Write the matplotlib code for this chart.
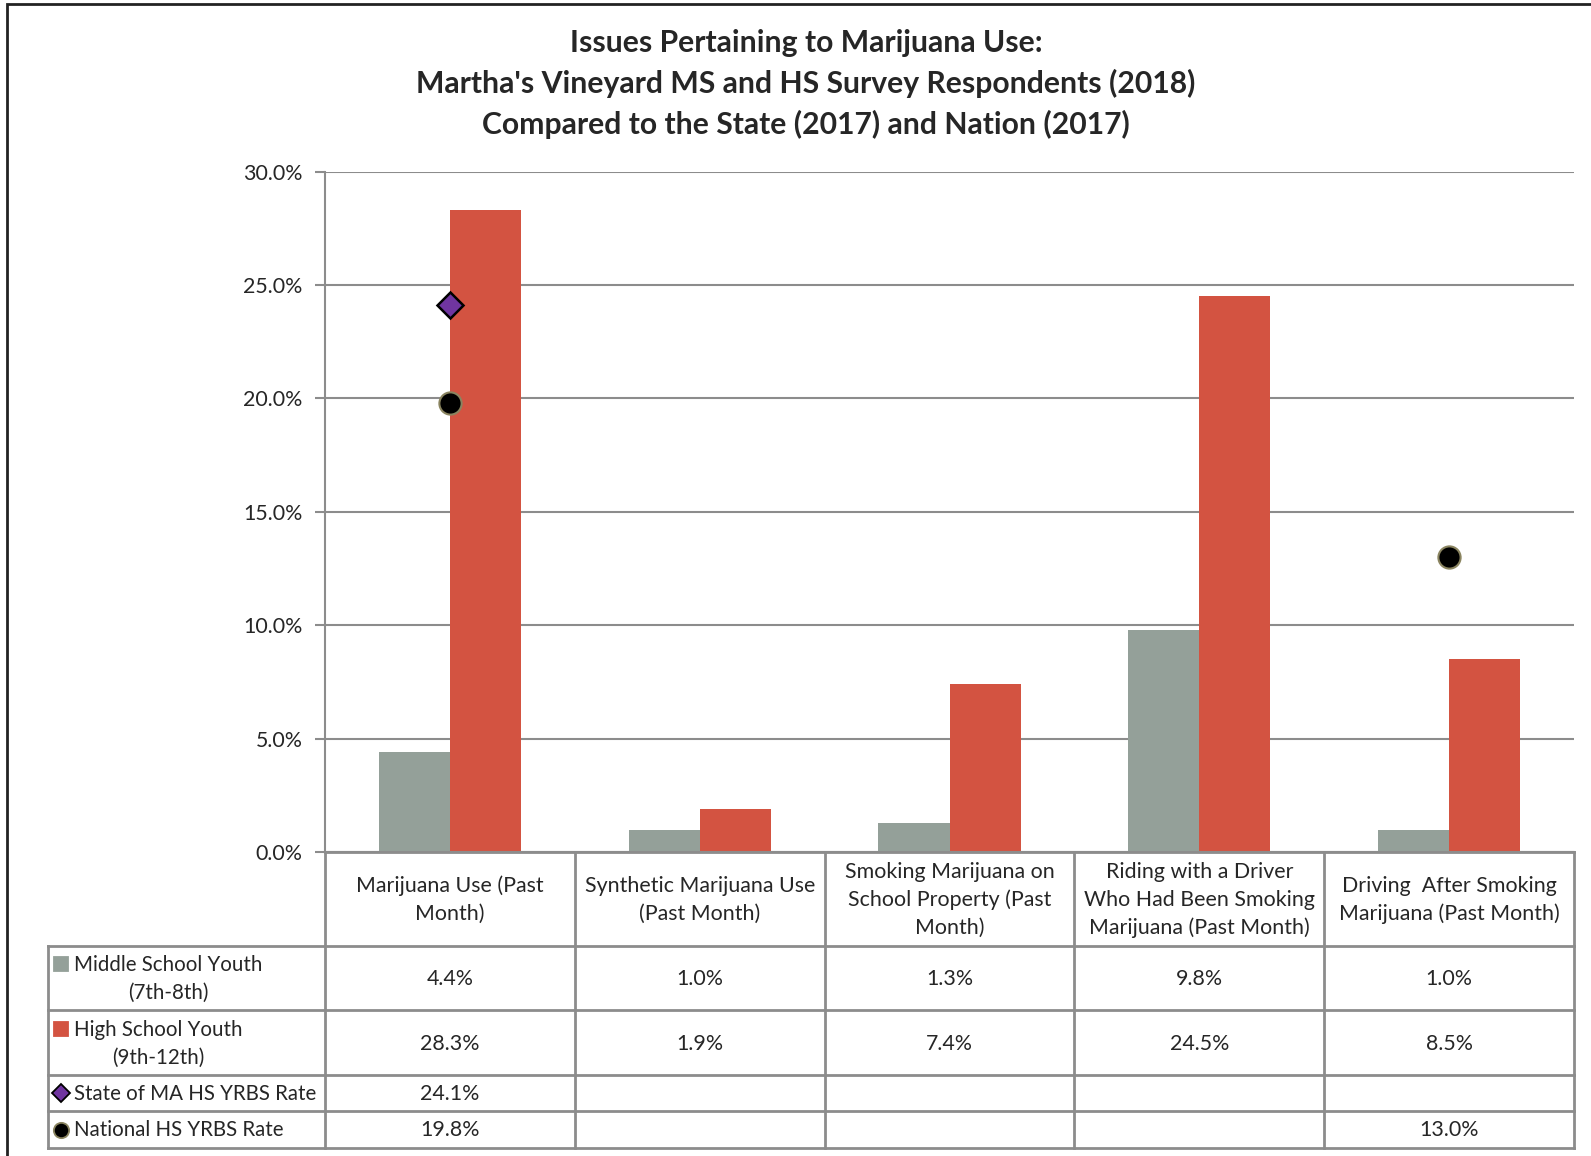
import numpy as np
import matplotlib.pyplot as plt
from matplotlib.patches import Rectangle

plt.rcParams['font.family'] = ['Lato', 'DejaVu Sans']

categories = ["Marijuana Use (Past\nMonth)",
              "Synthetic Marijuana Use\n(Past Month)",
              "Smoking Marijuana on\nSchool Property (Past\nMonth)",
              "Riding with a Driver\nWho Had Been Smoking\nMarijuana (Past Month)",
              "Driving  After Smoking\nMarijuana (Past Month)"]
ms_youth = [4.4, 1.0, 1.3, 9.8, 1.0]
hs_youth = [28.3, 1.9, 7.4, 24.5, 8.5]
state_ma = [24.1, None, None, None, None]
national = [19.8, None, None, None, 13.0]
series_names = ["Middle School Youth\n(7th-8th)", "High School Youth\n(9th-12th)",
                "State of MA HS YRBS Rate", "National HS YRBS Rate"]
yticks = [0, 5, 10, 15, 20, 25, 30]

W, H = 1591, 1156
fig = plt.figure(figsize=(W / 100, H / 100), dpi=100)

def box(l, t, r, b):
    return [l / W, 1 - b / H, (r - l) / W, (b - t) / H]

GRAY = '#94A099'
RED = '#D35341'
PURPLE = '#7035A0'
LINE = '#8C8C8C'
TXT = '#262626'
FS = 15.4

# outer frame
fig.patches.append(Rectangle((7 / W, -0.01), 1.05, 1 - 3.5 / H + 0.01, transform=fig.transFigure,
                             fill=False, edgecolor='#222222', linewidth=2))

fig.text(806 / W, 1 - 84 / H,
         "Issues Pertaining to Marijuana Use:\nMartha's Vineyard MS and HS Survey Respondents (2018)\nCompared to the State (2017) and Nation (2017)",
         ha='center', va='center', fontsize=21.7, fontweight='bold', color=TXT, linespacing=1.49)

ax = fig.add_axes(box(325, 171.5, 1574, 852.3))
x = np.arange(len(categories))
bw = 0.285
ax.bar(x - bw / 2, ms_youth, bw, color=GRAY, zorder=2)
ax.bar(x + bw / 2, hs_youth, bw, color=RED, zorder=2)
sx = [i for i, v in enumerate(state_ma) if v is not None]
ax.plot(sx, [state_ma[i] for i in sx], 'D', color=PURPLE, markeredgecolor='black',
        markeredgewidth=1.8, markersize=13, zorder=4)
nx = [i for i, v in enumerate(national) if v is not None]
ax.plot(nx, [national[i] for i in nx], 'o', color='black', markeredgecolor='#8A8460',
        markeredgewidth=1.5, markersize=16, zorder=4)

ax.set_xlim(-0.5, len(categories) - 0.5)
ax.set_ylim(0, 30)
ax.set_yticks(yticks)
ax.set_yticklabels([f"{t:.1f}%" for t in yticks], fontsize=FS, color=TXT)
ax.yaxis.grid(True, color=LINE, linewidth=1.5, zorder=0)
ax.set_xticks([])
ax.tick_params(axis='y', length=7, width=1.5, color=LINE, pad=9)
for s in ['top', 'right']:
    ax.spines[s].set_visible(False)
for s in ['left', 'bottom']:
    ax.spines[s].set_color(LINE)
    ax.spines[s].set_linewidth(1.5)

# data table
rows = [852, 946, 1010, 1075, 1111, 1148]
tab = fig.add_axes(box(0, 852, W, 1148))
tab.set_xlim(0, W)
tab.set_ylim(1148, 852)
tab.axis('off')
col_w = (1574 - 325) / len(categories)
cols = [325 + i * col_w for i in range(len(categories) + 1)]
lk = dict(color=LINE, linewidth=2, clip_on=False)
tab.plot([325, 1574], [rows[0], rows[0]], **lk)
for yy in rows[1:]:
    tab.plot([48, 1574], [yy, yy], **lk)
tab.plot([48, 48], [rows[1], rows[-1]], **lk)
for xx in cols:
    tab.plot([xx, xx], [rows[0], rows[-1]], **lk)

for i, c in enumerate(categories):
    tab.text((cols[i] + cols[i + 1]) / 2, (rows[0] + rows[1]) / 2 + 1, c, ha='center', va='center',
             fontsize=FS, color=TXT, linespacing=1.48)

table_series = [ms_youth, hs_youth, state_ma, national]
keys = [('s', GRAY, GRAY, 10), ('s', RED, RED, 10), ('D', PURPLE, 'black', 9), ('o', 'black', '#8A8460', 11)]
for r, (name, vals, k) in enumerate(zip(series_names, table_series, keys)):
    yc = (rows[r + 1] + rows[r + 2]) / 2
    ky = yc - 14 if '\n' in name else yc
    tab.plot([61], [ky], k[0], color=k[1], markeredgecolor=k[2], markersize=k[3],
             markeredgewidth=1.3, clip_on=False)
    tab.text(74, yc + 1, name, ha='left', va='center', fontsize=14.8, color=TXT,
             multialignment='center', linespacing=1.5)
    for i, v in enumerate(vals):
        if v is not None:
            tab.text((cols[i] + cols[i + 1]) / 2, yc + 1, f"{v:.1f}%", ha='center', va='center',
                     fontsize=FS, color=TXT)

fig.savefig('out.png', dpi=100, facecolor='white')
